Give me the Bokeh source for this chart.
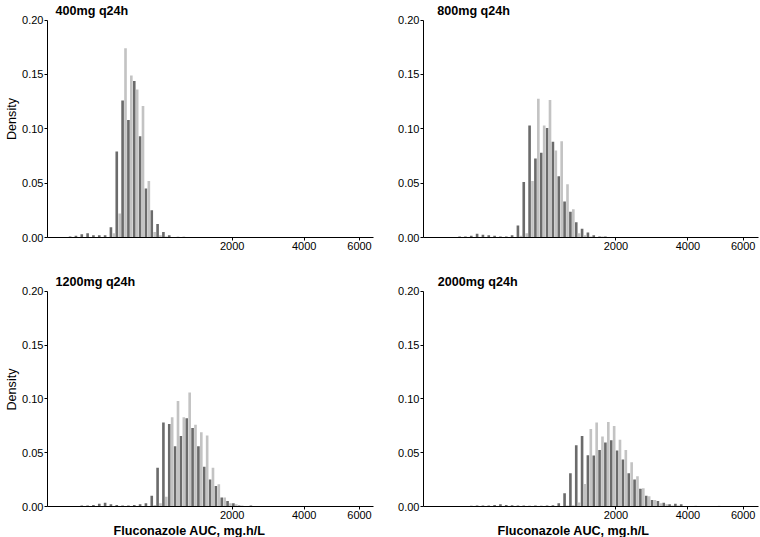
import math
from bokeh.plotting import figure
from bokeh.layouts import column, row
from bokeh.core.properties import value
from bokeh.models import (FixedTicker, CustomJSTickFormatter, NumeralTickFormatter,
                          Range1d, ColumnDataSource, Title)
from bokeh.embed import file_html
from bokeh.resources import INLINE

# ---------------- data ----------------
PANEL_TITLES = ["400mg q24h", "800mg q24h", "1200mg q24h", "2000mg q24h"]
X_LABEL = "Fluconazole AUC, mg.h/L"
Y_LABEL = "Density"
X_TICKS_AUC = [2000, 4000, 6000]
Y_TICKS = [0.0, 0.05, 0.10, 0.15, 0.20]
Y_MAX = 0.20

# histogram bins are equal-width on the sqrt(AUC) scale
BIN_WIDTH_SQRT = 1.5
BIN_ORIGIN_SQRT = -0.35

FIRST_BIN_400 = 2
DARK_400 = [0.001, 0.0015, 0.003, 0.004, 0.002, 0.002, 0.002, 0.0095, 0.079, 0.126,
            0.108, 0.144, 0.093, 0.045, 0.025, 0.0125, 0.005, 0.002, 0.0005, 0.0]
LIGHT_400 = [0.0, 0.0, 0.0, 0.0, 0.0, 0.0, 0.0, 0.004, 0.022, 0.174,
             0.149, 0.136, 0.121, 0.052, 0.005, 0.002, 0.001, 0.0005, 0.001, 0.001]

FIRST_BIN_800 = 3
DARK_800 = [0.001, 0.001, 0.0015, 0.0035, 0.0025, 0.002, 0.0015, 0.001, 0.001, 0.002,
            0.011, 0.051, 0.103, 0.0727, 0.078, 0.1006, 0.088, 0.0564, 0.033, 0.0236,
            0.014, 0.008, 0.0046, 0.002, 0.001, 0.001, 0.0005]
LIGHT_800 = [0.0, 0.0, 0.0, 0.0, 0.0, 0.0, 0.0, 0.0005, 0.0005, 0.0,
             0.0015, 0.004, 0.052, 0.1276, 0.103, 0.1264, 0.080, 0.0886, 0.049, 0.026,
             0.004, 0.002, 0.001, 0.0005, 0.001, 0.0005, 0.0005]

FIRST_BIN_1200 = 4
DARK_1200 = [0.001, 0.001, 0.0015, 0.0025, 0.0035, 0.002, 0.0015, 0.001, 0.001, 0.0015,
             0.002, 0.003, 0.010, 0.036, 0.078, 0.0767, 0.056, 0.0655, 0.082, 0.073,
             0.056, 0.037, 0.025, 0.019, 0.0083, 0.005, 0.003, 0.001, 0.0005, 0.001]
LIGHT_1200 = [0.0, 0.0, 0.0, 0.0, 0.0, 0.0, 0.0, 0.0, 0.0, 0.0,
              0.0, 0.0005, 0.0015, 0.003, 0.009, 0.083, 0.098, 0.083, 0.106, 0.076,
              0.069, 0.066, 0.036, 0.0207, 0.0083, 0.003, 0.002, 0.001, 0.0005, 0.0]

FIRST_BIN_2000 = 5
DARK_2000 = [0.0008, 0.001, 0.001, 0.001, 0.0015, 0.002, 0.0015, 0.0012, 0.001, 0.001,
             0.0008, 0.001, 0.0008, 0.001, 0.0012, 0.003, 0.0124, 0.031, 0.057, 0.0655,
             0.0476, 0.0473, 0.0526, 0.0594, 0.0615, 0.052, 0.0436, 0.031, 0.025, 0.0164,
             0.010, 0.006, 0.005, 0.0035, 0.002, 0.0025, 0.002, 0.0005, 0.0, 0.0005,
             0.0, 0.0, 0.0]
LIGHT_2000 = [0.0, 0.0, 0.0, 0.0, 0.0, 0.0, 0.0, 0.0, 0.0, 0.0,
              0.0, 0.0, 0.0, 0.0, 0.0, 0.0005, 0.001, 0.0012, 0.0037, 0.021,
              0.072, 0.078, 0.065, 0.0785, 0.0748, 0.062, 0.0525, 0.041, 0.028, 0.017,
              0.0096, 0.006, 0.003, 0.002, 0.001, 0.001, 0.0005, 0.0, 0.0008, 0.0,
              0.0005, 0.0, 0.0008]

# ---------------- style ----------------
DARK = "#6B6B6B"
LIGHT = "#C3C3C3"
FONT = "Liberation Sans"


def make_panel(title, first_bin, dark, light, x_lim, width, height, borders, top_pad,
               title_dx, title_gap, y_label=False, x_label_offset=None):
    frame_h = height - borders[2] - borders[3]
    frame_w = width - borders[0] - borders[1]
    y_end = Y_MAX * frame_h / (frame_h - top_pad)
    p = figure(width=width, height=height, output_backend="svg", toolbar_location=None,
               x_range=Range1d(*x_lim), y_range=Range1d(0, y_end),
               min_border_left=borders[0], min_border_right=borders[1],
               min_border_top=borders[2], min_border_bottom=borders[3])
    w = BIN_WIDTH_SQRT
    centers = [BIN_ORIGIN_SQRT + (first_bin + i + 0.5) * w for i in range(len(dark))]
    src_d = ColumnDataSource(dict(x=[c - w / 4 for c in centers], top=dark))
    src_l = ColumnDataSource(dict(x=[c + w / 4 for c in centers], top=light))
    p.vbar(x="x", top="top", bottom=0, width=w * 0.45, source=src_d,
           fill_color=DARK, line_color=None)
    p.vbar(x="x", top="top", bottom=0, width=w * 0.45, source=src_l,
           fill_color=LIGHT, line_color=None)

    # panel title, drawn in the padding strip at the top of the frame
    tx = x_lim[0] + title_dx * (x_lim[1] - x_lim[0]) / frame_w
    ty = y_end * (frame_h - title_gap) / frame_h
    p.text(x=[tx], y=[ty], text=[title], text_font=value(FONT),
           text_font_size=value("12.6px"), text_font_style="bold", text_color="black",
           text_baseline="alphabetic", text_align="left")

    p.xgrid.visible = False
    p.ygrid.visible = False
    p.outline_line_color = None
    p.background_fill_color = "white"

    p.xaxis.ticker = FixedTicker(ticks=[math.sqrt(v) for v in X_TICKS_AUC])
    p.xaxis.formatter = CustomJSTickFormatter(code="return Math.round(tick*tick).toFixed(0);")
    p.yaxis.ticker = FixedTicker(ticks=Y_TICKS)
    p.yaxis.formatter = NumeralTickFormatter(format="0.00")
    p.yaxis.bounds = (0, Y_MAX)
    for ax in (p.xaxis, p.yaxis):
        ax.axis_line_color = "black"
        ax.axis_line_width = 1
        ax.major_tick_line_color = "black"
        ax.major_tick_in = 0
        ax.major_tick_out = 3
        ax.minor_tick_in = 0
        ax.minor_tick_out = 0
        ax.major_label_text_font = FONT
        ax.major_label_text_font_size = "11px"
        ax.major_label_text_color = "black"
        ax.major_label_standoff = 1
        ax.axis_label_text_font = FONT
        ax.axis_label_text_color = "black"
        ax.axis_label_text_font_size = "12.6px"
        ax.axis_label_standoff = 0
    if y_label:
        p.yaxis.axis_label = Y_LABEL
        p.yaxis.axis_label_text_font_style = "normal"
    if x_label_offset is not None:
        p.add_layout(Title(text=X_LABEL, align="left", offset=x_label_offset, standoff=0,
                           text_font=FONT, text_font_size="12.6px", text_font_style="bold",
                           text_color="black"), "below")
    return p


LEFT_X = (-2.79, 81.06)
RIGHT_X = (-4.76, 81.40)

p1 = make_panel(PANEL_TITLES[0], FIRST_BIN_400, DARK_400, LIGHT_400, LEFT_X,
                390, 272, (47, 17, 0, 35), 19.5, 8, 10, y_label=True)
p2 = make_panel(PANEL_TITLES[1], FIRST_BIN_800, DARK_800, LIGHT_800, RIGHT_X,
                370, 272, (33, 2, 0, 35), 19.5, 13.7, 10)
p3 = make_panel(PANEL_TITLES[2], FIRST_BIN_1200, DARK_1200, LIGHT_1200, LEFT_X,
                390, 265, (47, 17, 0, 31), 18.7, 8, 9.5, y_label=True, x_label_offset=66)
p4 = make_panel(PANEL_TITLES[3], FIRST_BIN_2000, DARK_2000, LIGHT_2000, RIGHT_X,
                370, 265, (33, 2, 0, 31), 18.7, 14.3, 9.5, x_label_offset=74)

layout = column(row(p1, p2), row(p3, p4))
open("out.html", "w").write(file_html(layout, INLINE))
